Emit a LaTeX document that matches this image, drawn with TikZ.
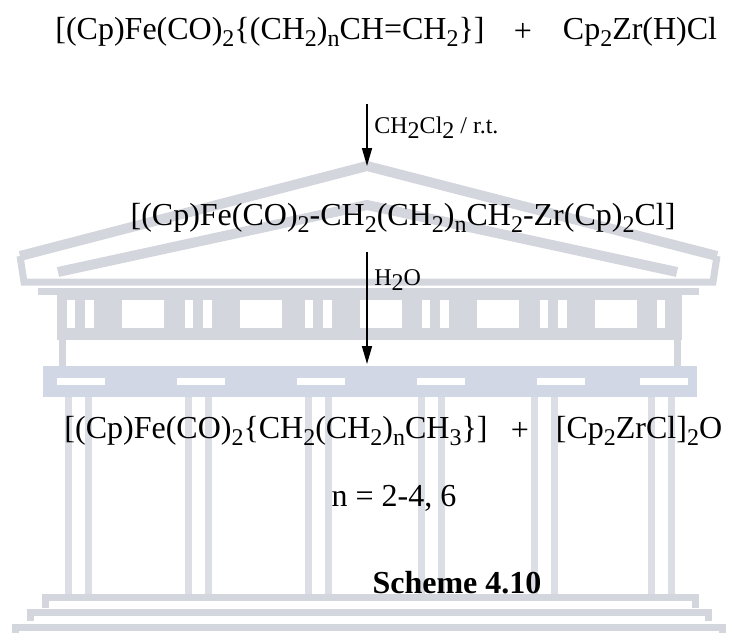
\documentclass[tikz,border=0pt]{standalone}
\usepackage{fontspec}
\setmainfont{Liberation Serif}
\usetikzlibrary{arrows.meta, positioning}

% subscripts for the formulas
\newcommand{\sbt}[1]{\raisebox{-0.45ex}{\fontsize{12}{12}\selectfont #1}}

\definecolor{wmline}{RGB}{212,214,222}
\definecolor{wmcol}{RGB}{220,222,229}
\definecolor{wmband}{RGB}{210,215,229}

\begin{document}
\begin{tikzpicture}[x=0.5pt, y=-0.5pt,
                    chem/.style={font=\fontsize{16}{19}\selectfont, inner sep=0pt},
                    cond/.style={font=\fontsize{12}{14}\selectfont, inner sep=0pt, anchor=west},
                    rxn/.style={line width=0.8pt, -{Triangle[length=9pt, width=5pt]}},
                    wm/.style={draw=wmline, line width=3.5pt}]

  \useasboundingbox (0,0) rectangle (737,633);

  % temple in the background
  \draw[wm, line width=5pt, line join=miter] (20,256) -- (367,166) -- (717,256);
  \draw[wm, line width=5pt] (58,272) -- (367,205) -- (677,272);
  \draw[wm] (20,256) -- (24,282) -- (713,282) -- (717,256);
  \draw[wm] (38,291) -- (699,291);
  \fill[wmline] (57,294) rectangle (682,340);
  \foreach \x in {67,185,305,422,540} {
    \fill[white] (\x,300) rectangle (\x+8,328);
    \fill[white] (\x+18,300) rectangle (\x+27,328);
    \fill[white] (\x+55,300) rectangle (\x+97,328);
  }
  \fill[white] (657,300) rectangle (665,328);
  \draw[wm] (62,340) -- (62,366);
  \draw[wm] (677,340) -- (677,366);
  \fill[wmband] (43,366) rectangle (697,397);
  \foreach \x in {57,177,297,417,537,640} {
    \fill[white] (\x,378) rectangle (\x+48,385);
  }
  \foreach \x in {65,185,305,418,531,648} {
    \fill[wmcol] (\x,397) rectangle (\x+7,595);
    \fill[wmcol] (\x+20,397) rectangle (\x+27,595);
  }
  \draw[wm] (45,608) -- (45,597) -- (695,597) -- (695,608);
  \draw[wm] (30,621) -- (30,612) -- (708,612) -- (708,621);
  \draw[wm] (15,633) -- (15,627) -- (722,627) -- (722,633);

  % formulas
  \node[chem] (r1) at (270,32) {[(Cp)Fe(CO)\sbt{2}\{(CH\sbt{2})\sbt{n}CH=CH\sbt{2}\}]};
  \node[chem] (p1) at (523,32) {+};
  \node[chem] (r2) at (640,32) {Cp\sbt{2}Zr(H)Cl};

  \node[chem] (i1) at (403,218) {[(Cp)Fe(CO)\sbt{2}-CH\sbt{2}(CH\sbt{2})\sbt{n}CH\sbt{2}-Zr(Cp)\sbt{2}Cl]};

  \node[chem] (pr1) at (276,431) {[(Cp)Fe(CO)\sbt{2}\{CH\sbt{2}(CH\sbt{2})\sbt{n}CH\sbt{3}\}]};
  \node[chem] (p2) at (520,431) {+};
  \node[chem] (pr2) at (639,431) {[Cp\sbt{2}ZrCl]\sbt{2}O};

  \node[chem] (nval) at (394,498) {n = 2-4, 6};
  \node[chem, font=\fontsize{16}{19}\selectfont\bfseries] (title) at (457,583) {Scheme 4.10};

  % reaction arrows
  \coordinate (a1) at (367,104);
  \coordinate (b1) at (367,166);
  \coordinate (a2) at (367,252);
  \coordinate (b2) at (367,364);
  \draw[rxn] (a1) -- (b1);
  \draw[rxn] (a2) -- (b2);
  \node[cond] (c1) at (374,128) {CH\sbt{2}Cl\sbt{2} / r.t.};
  \node[cond] (c2) at (374,280) {H\sbt{2}O};

\end{tikzpicture}
\end{document}
